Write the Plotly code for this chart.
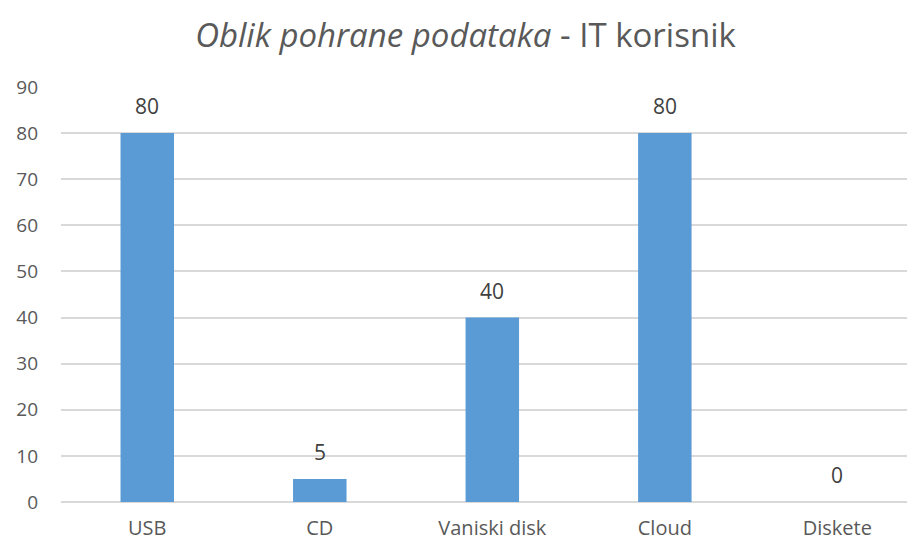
import plotly.graph_objects as go

categories = ["USB", "CD", "Vaniski disk", "Cloud", "Diskete"]
values = [80, 5, 40, 80, 0]
y_ticks = [0, 10, 20, 30, 40, 50, 60, 70, 80, 90]

text_color = "#595959"
font_family = "Open Sans, Liberation Sans, sans-serif"

fig = go.Figure(
    data=go.Bar(
        x=categories, y=values,
        width=0.31,
        marker=dict(color="#5B9BD5", line=dict(width=0)),
        hoverinfo="x+y",
    )
)

# value labels sit well above each bar, like the original
for cat, val in zip(categories, values):
    fig.add_annotation(
        x=cat, y=val, text=str(val), showarrow=False,
        yanchor="bottom", yshift=11,
        font=dict(size=21, color="#404040", family=font_family),
    )

# the page body adds an 8px offset, so margins are trimmed to match
fig.update_layout(
    width=915, height=542,
    paper_bgcolor="white", plot_bgcolor="white",
    margin=dict(l=50, r=8, t=79, b=48),
    font=dict(family=font_family, color=text_color),
    title=dict(
        text="<i>Oblik pohrane podataka</i> - IT korisnik",
        x=0.5, xanchor="center", y=0.95, yanchor="middle",
        font=dict(size=33, color=text_color, family=font_family),
    ),
    showlegend=False,
)
fig.update_xaxes(
    range=[-0.5, 4.45],
    showgrid=False, showline=False, zeroline=False,
    ticks="", ticklabelstandoff=12, tickfont=dict(size=20, color=text_color),
)
fig.update_yaxes(
    range=[0, 90], tickvals=y_ticks,
    showgrid=True, gridcolor="#D9D9D9", gridwidth=1.5,
    zeroline=True, zerolinecolor="#D9D9D9", zerolinewidth=1.5,
    showline=False, ticks="", ticklabelstandoff=22,
    tickfont=dict(size=19, color=text_color),
)

fig.write_html("out.html")
